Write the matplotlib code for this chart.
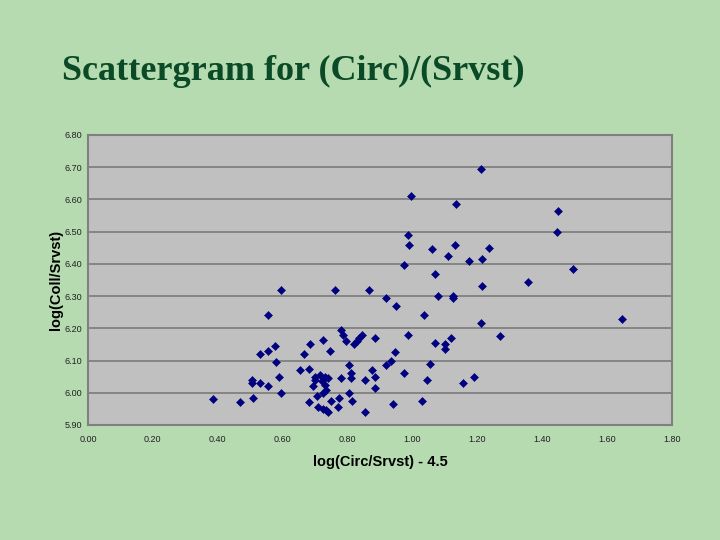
import matplotlib
matplotlib.use("Agg")
import matplotlib.pyplot as plt

# values
log_circ = [0.385, 0.47, 0.505, 0.505, 0.51, 0.53, 0.53, 0.555, 0.555, 0.555,
            0.575, 0.58, 0.59, 0.595, 0.595, 0.655, 0.665, 0.68, 0.685, 0.68,
            0.695, 0.70, 0.70, 0.705, 0.715, 0.72, 0.725, 0.73, 0.73, 0.735,
            0.74, 0.725, 0.71, 0.725, 0.735, 0.74, 0.745, 0.75, 0.76, 0.77,
            0.775, 0.78, 0.78, 0.785, 0.795, 0.805, 0.805, 0.81, 0.81, 0.815,
            0.82, 0.83, 0.835, 0.845, 0.855, 0.855, 0.865, 0.875, 0.885, 0.885,
            0.885, 0.92, 0.92, 0.935, 0.94, 0.945, 0.95, 0.975, 0.975, 0.985,
            0.985, 0.99, 0.995, 1.03, 1.035, 1.045, 1.055, 1.06, 1.07, 1.07,
            1.08, 1.10, 1.10, 1.11, 1.12, 1.125, 1.125, 1.13, 1.135, 1.155,
            1.175, 1.19, 1.21, 1.21, 1.215, 1.215, 1.235, 1.27, 1.355, 1.445,
            1.45, 1.495, 1.645]
log_coll = [5.98, 5.97, 6.04, 6.03, 5.985, 6.03, 6.12, 6.13, 6.02, 6.24,
            6.145, 6.095, 6.05, 6.00, 6.32, 6.07, 6.12, 6.075, 6.15, 5.97,
            6.02, 6.05, 6.04, 5.99, 6.055, 6.035, 6.165, 6.05, 6.025, 6.01,
            6.045, 6.00, 5.955, 5.95, 5.945, 5.94, 6.13, 5.975, 6.32, 5.955,
            5.985, 6.045, 6.195, 6.18, 6.16, 6.085, 6.00, 6.06, 6.045, 5.975,
            6.15, 6.16, 6.17, 6.18, 6.04, 5.94, 6.32, 6.07, 6.05, 6.17,
            6.015, 6.295, 6.085, 6.10, 5.965, 6.125, 6.27, 6.395, 6.06, 6.18,
            6.49, 6.46, 6.61, 5.975, 6.24, 6.04, 6.09, 6.445, 6.37, 6.155,
            6.30, 6.15, 6.135, 6.425, 6.17, 6.30, 6.295, 6.46, 6.585, 6.03,
            6.41, 6.05, 6.695, 6.215, 6.415, 6.33, 6.45, 6.175, 6.345, 6.50,
            6.565, 6.385, 6.23]

x_ticks = [0.0, 0.2, 0.4, 0.6, 0.8, 1.0, 1.2, 1.4, 1.6, 1.8]
y_ticks = [5.9, 6.0, 6.1, 6.2, 6.3, 6.4, 6.5, 6.6, 6.7, 6.8]

fig = plt.figure(figsize=(7.2, 5.4), dpi=100, facecolor="#b7dbb0")
ax = fig.add_axes([0.1222, 0.2130, 0.8111, 0.5370])
ax.set_facecolor("#c0c0c0")

ax.plot(log_circ, log_coll, linestyle="none", marker="D", markersize=4.3,
        color="#000080", markeredgewidth=0.4, zorder=3)

ax.set_xlim(0, 1.8)
ax.set_ylim(5.9, 6.8)
ax.set_xticks(x_ticks)
ax.set_yticks(y_ticks)
ax.set_xticklabels([f"{v:.2f}" for v in x_ticks])
ax.set_yticklabels([f"{v:.2f}" for v in y_ticks])
ax.tick_params(axis="y", length=0, labelsize=6.5, pad=4, colors="#202020")
ax.tick_params(axis="x", length=0, labelsize=6.5, pad=7, colors="#202020")
for lab in ax.get_xticklabels() + ax.get_yticklabels():
    lab.set_family("Liberation Sans")
ax.grid(axis="y", color="#808080", linewidth=1.3)
ax.set_axisbelow(True)
for s in ax.spines.values():
    s.set_color("#808080")
    s.set_linewidth(1.5)

ax.set_xlabel("log(Circ/Srvst) - 4.5", fontsize=10.5, fontweight="bold",
              family="Liberation Sans", labelpad=8)
ax.set_ylabel("log(Coll/Srvst)", fontsize=10.5, fontweight="bold",
              family="Liberation Sans", labelpad=1)

fig.text(0.086, 0.852, "Scattergram for (Circ)/(Srvst)", fontsize=26,
         fontweight="bold", family="Liberation Serif", color="#0a4a26",
         va="baseline")

plt.savefig("out.png", dpi=100, facecolor=fig.get_facecolor())
